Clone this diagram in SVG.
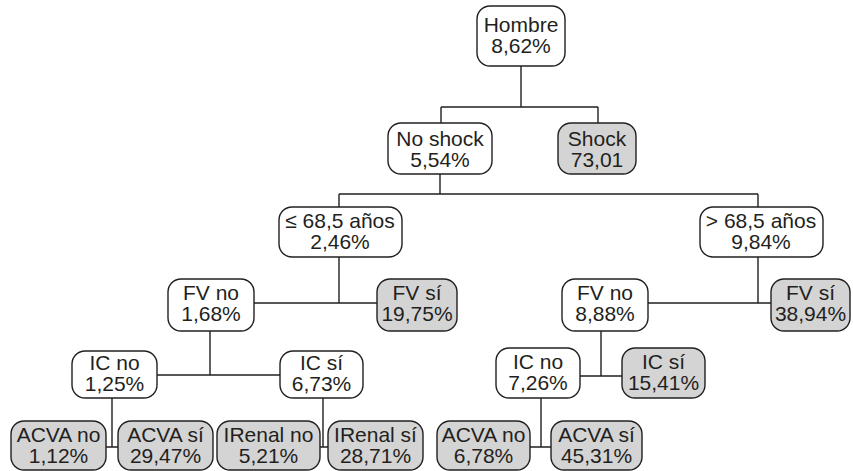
<svg xmlns="http://www.w3.org/2000/svg" width="853" height="471" viewBox="0 0 853 471">
<style>
.b{fill:#fff;stroke:#231f20;stroke-width:1.4}
.g{fill:#d4d4d4;stroke:#231f20;stroke-width:1.4}
.c{fill:none;stroke:#231f20;stroke-width:1.4}
text{font-family:"Liberation Sans",Arial,sans-serif;font-size:21px;fill:#231f20;text-anchor:middle}
</style>
<rect width="853" height="471" fill="#fff"/>
<g id="connectors" class="c">
<path d="M521 66V107M441 107H598M441 107V123M598 107V123"/>
<path d="M440 174V194M339 194H758M339 194V207M758 194V207"/>
<path d="M339 257V303M254 303H377"/>
<path d="M758 257V303M648 303H771"/>
<path d="M210 331V375M157 375H280"/>
<path d="M601 331V376M580 376H622"/>
<path d="M112 398V447M106 447H118"/>
<path d="M323 398V447M320 447H328"/>
<path d="M541 398V447M530 447H551"/>
</g>
<g id="hombre"><rect class="b" x="477" y="6" width="88" height="60" rx="13"/><text x="521" y="32">Hombre</text><text x="521" y="53">8,62%</text></g>
<g id="noshock"><rect class="b" x="388" y="123" width="104" height="51" rx="13"/><text x="440" y="146">No shock</text><text x="440" y="167">5,54%</text></g>
<g id="shock"><rect class="g" x="558" y="123" width="78" height="51" rx="13"/><text x="597" y="146">Shock</text><text x="597" y="167">73,01</text></g>
<g id="menor685"><rect class="b" x="279" y="207" width="123" height="50" rx="13"/><text x="340" y="228">≤ 68,5 años</text><text x="340" y="249">2,46%</text></g>
<g id="mayor685"><rect class="b" x="700" y="207" width="123" height="50" rx="13"/><text x="761" y="228">&gt; 68,5 años</text><text x="761" y="249">9,84%</text></g>
<g id="fvnoL"><rect class="b" x="168" y="279" width="86" height="52" rx="13"/><text x="211" y="300">FV no</text><text x="211" y="321">1,68%</text></g>
<g id="fvsiL"><rect class="g" x="377" y="279" width="80" height="52" rx="13"/><text x="417" y="300">FV sí</text><text x="417" y="321">19,75%</text></g>
<g id="fvnoR"><rect class="b" x="562" y="279" width="86" height="52" rx="13"/><text x="605" y="300">FV no</text><text x="605" y="321">8,88%</text></g>
<g id="fvsiR"><rect class="g" x="771" y="279" width="79" height="52" rx="13"/><text x="810.5" y="300">FV sí</text><text x="810.5" y="321">38,94%</text></g>
<g id="icnoL"><rect class="b" x="72" y="351" width="85" height="47" rx="13"/><text x="114.5" y="370">IC no</text><text x="114.5" y="391">1,25%</text></g>
<g id="icsiL"><rect class="b" x="280" y="351" width="83" height="47" rx="13"/><text x="321.5" y="370">IC sí</text><text x="321.5" y="391">6,73%</text></g>
<g id="icnoR"><rect class="b" x="496" y="348" width="84" height="50" rx="13"/><text x="538" y="369">IC no</text><text x="538" y="390">7,26%</text></g>
<g id="icsiR"><rect class="g" x="622" y="348" width="83" height="50" rx="13"/><text x="663.5" y="369">IC sí</text><text x="663.5" y="390">15,41%</text></g>
<g id="acvanoL"><rect class="g" x="11" y="421" width="95" height="49" rx="13"/><text x="58.5" y="442">ACVA no</text><text x="58.5" y="463">1,12%</text></g>
<g id="acvasiL"><rect class="g" x="118" y="421" width="95" height="49" rx="13"/><text x="165.5" y="442">ACVA sí</text><text x="165.5" y="463">29,47%</text></g>
<g id="irenalno"><rect class="g" x="217" y="421" width="103" height="49" rx="13"/><text x="268.5" y="442">IRenal no</text><text x="268.5" y="463">5,21%</text></g>
<g id="irenalsi"><rect class="g" x="328" y="421" width="95" height="49" rx="13"/><text x="375.5" y="442">IRenal sí</text><text x="375.5" y="463">28,71%</text></g>
<g id="acvanoR"><rect class="g" x="437" y="421" width="93" height="49" rx="13"/><text x="483.5" y="442">ACVA no</text><text x="483.5" y="463">6,78%</text></g>
<g id="acvasiR"><rect class="g" x="551" y="421" width="91" height="49" rx="13"/><text x="596.5" y="442">ACVA sí</text><text x="596.5" y="463">45,31%</text></g>
</svg>
